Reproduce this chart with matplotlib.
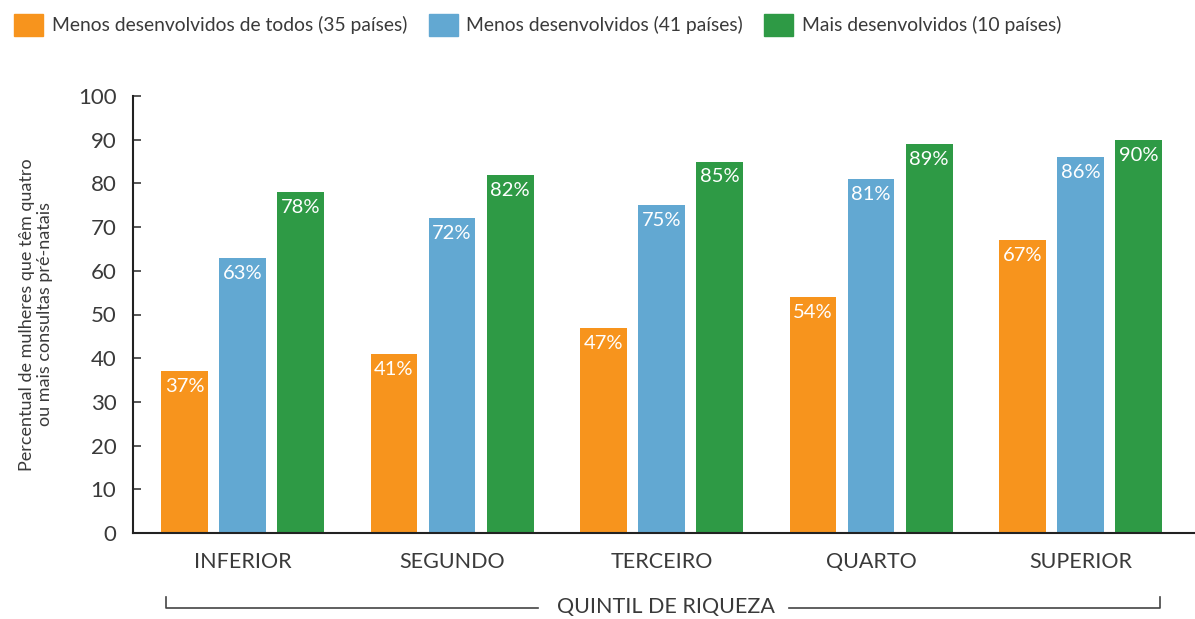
import numpy as np
import matplotlib.pyplot as plt
from matplotlib.patches import Patch

categories = ['INFERIOR', 'SEGUNDO', 'TERCEIRO', 'QUARTO', 'SUPERIOR']
series_names = ['Menos desenvolvidos de todos (35 países)',
                'Menos desenvolvidos (41 países)',
                'Mais desenvolvidos (10 países)']
menos_todos = [37, 41, 47, 54, 67]
menos_desenv = [63, 72, 75, 81, 86]
mais_desenv = [78, 82, 85, 89, 90]
colors = ['#F7941D', '#62A8D2', '#2E9A45']

plt.rcParams['font.family'] = ['Lato', 'DejaVu Sans']
txt = '#3a3a3a'

W, H = 1195, 619
fig = plt.figure(figsize=(W / 100, H / 100), dpi=100)
ax = fig.add_axes([133 / W, (H - 533) / H, 1 - 133 / W, 437 / H])

x = np.arange(len(categories))
w = 0.224
step = 0.277
for i, (vals, col) in enumerate(zip([menos_todos, menos_desenv, mais_desenv], colors)):
    bars = ax.bar(x + (i - 1) * step, vals, w, color=col)
    for b, v in zip(bars, vals):
        ax.annotate('%d%%' % v, (b.get_x() + b.get_width() / 2, v),
                    xytext=(0, -5), textcoords='offset points',
                    ha='center', va='top', color='white', fontsize=14.5)

ax.set_xlim(-0.5227, 4.5465)
ax.set_ylim(0, 100)
ax.set_yticks(range(0, 101, 10))
ax.set_xticks(x)
ax.set_xticklabels(categories)
ax.tick_params(axis='x', length=0, pad=14, labelsize=15.5, colors=txt)
ax.tick_params(axis='y', direction='in', length=6, width=1.2, pad=12,
               labelsize=16, colors=txt)
for s in ['top', 'right']:
    ax.spines[s].set_visible(False)
for s in ['left', 'bottom']:
    ax.spines[s].set_linewidth(1.5)
    ax.spines[s].set_color('#222222')

ax.set_ylabel('Percentual de mulheres que têm quatro\nou mais consultas pré-natais',
              fontsize=13, color=txt, linespacing=1.1, labelpad=18)

# bracket under categories
fig.lines.append(plt.Line2D([166 / W, 166 / W, 538 / W],
                            [1 - 597 / H, 1 - 608 / H, 1 - 608 / H],
                            transform=fig.transFigure, color='#444444', lw=1.2))
fig.lines.append(plt.Line2D([789 / W, 1160 / W, 1160 / W],
                            [1 - 608 / H, 1 - 608 / H, 1 - 597 / H],
                            transform=fig.transFigure, color='#444444', lw=1.2))
fig.text(665.5 / W, 1 - 607 / H, 'QUINTIL DE RIQUEZA', ha='center', va='center',
         fontsize=15.5, color=txt)

handles = [Patch(color=c) for c in colors]
fig.legend(handles, series_names, loc='upper left', bbox_to_anchor=(0.0, 1.0),
           ncol=3, frameon=False, fontsize=13.9, handlelength=1.5, handleheight=1.3,
           handletextpad=0.45, columnspacing=1.1, labelcolor=txt,
           borderaxespad=0.35)

fig.savefig('out.png', dpi=100)
